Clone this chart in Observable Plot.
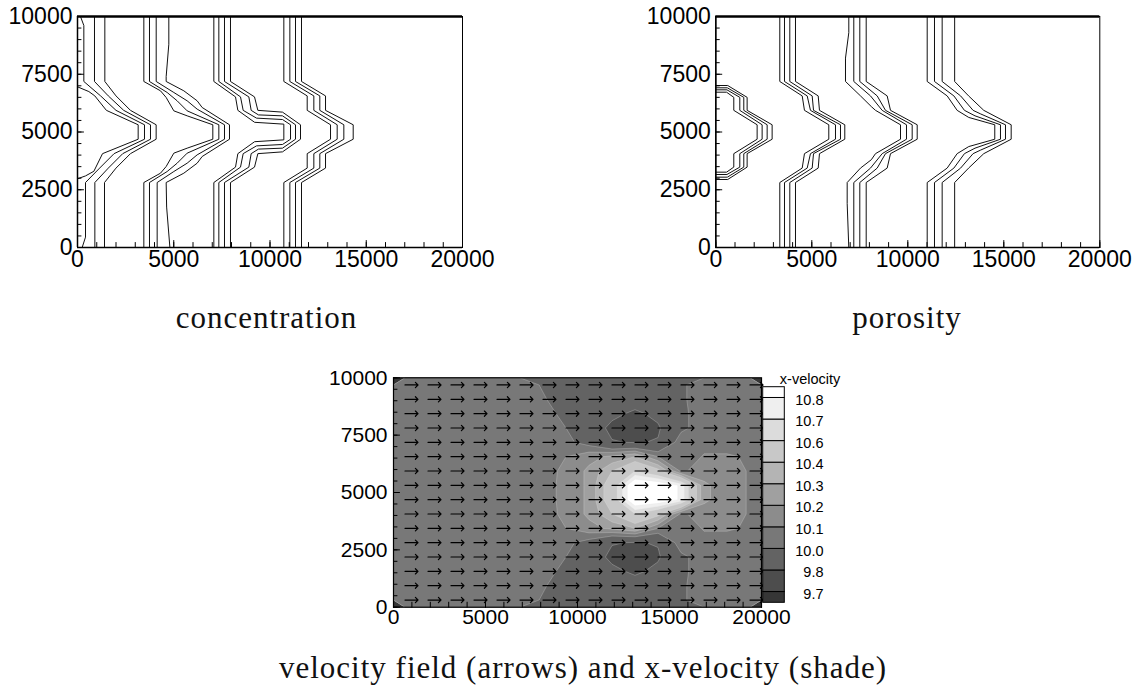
<!DOCTYPE html>
<html>
<head>
<meta charset="utf-8">
<script src="https://cdn.jsdelivr.net/npm/d3@7"></script>
<script src="https://cdn.jsdelivr.net/npm/@observablehq/plot@0.6"></script>
<style>
  html, body { margin: 0; padding: 0; background: #fff; }
  #page { position: relative; width: 1141px; height: 696px; overflow: hidden; }
  .panel { position: absolute; }
  .caption {
    position: absolute; width: 700px; text-align: center; white-space: nowrap;
    font-family: "Liberation Serif", "Times New Roman", serif;
    font-size: 31px; line-height: 31px; letter-spacing: 1px; color: #111;
  }
</style>
</head>
<body>
<div id="page"></div>
<script>
// Axis ticks shared by all three panels (domain is 20000 x 10000 m)
const xTicks = [0, 5000, 10000, 15000, 20000];
const yTicks = [0, 2500, 5000, 7500, 10000];

// Concentration iso-lines: four fronts, each with four levels; vertices are [x, y]
const concentrationFront1 = [
  [[0,6956],[590,6750],[900,6562.5],[1500,5937.5],[3151,5312.5],[3151,4687.5],[1300,4062.5],[850,3300],[420,3100],[0,2974]],
  [[156,10000],[329,9610],[329,7187.5],[1200,6562.5],[2000,5937.5],[3480,5312.5],[3480,4687.5],[1900,4062.5],[1150,3437.5],[416,2812.5],[416,450],[243,0]],
  [[883,10000],[883,7187.5],[1600,6562.5],[2400,5937.5],[3792,5312.5],[3792,4687.5],[2350,4062.5],[1600,3437.5],[901,2812.5],[901,0]],
  [[1420,10000],[1420,7187.5],[2000,6562.5],[2750,5937.5],[4086,5312.5],[4086,4687.5],[2750,4062.5],[2000,3437.5],[1403,2812.5],[1403,0]]
];
const concentrationFront2 = [
  [[3446,10000],[3446,7187.5],[4311,6783],[4606,6494],[5004,5916],[5697,5700],[7030,5312.5],[7030,4687.5],[5697,4300],[5004,4084],[4606,3506],[4311,3217],[3446,2812.5],[3446,0]],
  [[3740,10000],[3740,7187.5],[4657,6711],[5177,6350],[5697,5916],[7342,5312.5],[7342,4687.5],[5697,4084],[5177,3650],[4657,3289],[3740,2812.5],[3740,0]],
  [[4088,10000],[4088,7187.5],[5004,6711],[5697,6350],[6216,5989],[7636,5312.5],[7636,4687.5],[6216,4011],[5697,3650],[5004,3289],[4138,2812.5],[4138,0]],
  [[4744,10000],[4744,8800],[4606,7400],[4606,7187.5],[5524,6783],[6216,6350],[6476,6061],[7896,5312.5],[7896,4687.5],[6476,3939],[6216,3650],[5524,3217],[4606,2812.5],[4630,1750],[4800,0]]
];
const concentrationFront3 = [
  [[7082,10000],[7082,7187.5],[8208,6520],[8330,5937.5],[9200,5420],[10719,5340],[10719,4660],[9200,4580],[8330,4062.5],[8208,3480],[7082,2812.5],[7082,0]],
  [[7342,10000],[7342,7187.5],[8468,6520],[8607,5937.5],[9300,5600],[10650,5540],[11066,5312.5],[11066,4687.5],[10650,4460],[9300,4400],[8607,4062.5],[8468,3480],[7342,2812.5],[7342,0]],
  [[7636,10000],[7636,7187.5],[8901,6520],[9022,5937.5],[9400,5740],[10650,5700],[11325,5312.5],[11325,4687.5],[10650,4300],[9400,4260],[9022,4062.5],[8901,3480],[7636,2812.5],[7636,0]],
  [[7948,10000],[7948,7187.5],[9195,6520],[9369,5937.5],[10650,5860],[11585,5312.5],[11585,4687.5],[10650,4140],[9369,4062.5],[9195,3480],[7948,2812.5],[7948,0]]
];
const concentrationFront4 = [
  [[10719,10000],[10719,7187.5],[11932,6562.5],[11932,5937.5],[13144,5312.5],[13144,4687.5],[11932,4062.5],[11932,3437.5],[10719,2812.5],[10719,0]],
  [[11031,10000],[11031,7187.5],[12277,6562.5],[12277,5937.5],[13490,5312.5],[13490,4687.5],[12277,4062.5],[12277,3437.5],[11031,2812.5],[11031,0]],
  [[11325,10000],[11325,7187.5],[12588,6562.5],[12588,5937.5],[13836,5312.5],[13836,4687.5],[12588,4062.5],[12588,3437.5],[11325,2812.5],[11325,0]],
  [[11637,10000],[11637,7187.5],[12884,6562.5],[12884,5937.5],[14322,5312.5],[14322,4687.5],[12884,4062.5],[12884,3437.5],[11637,2812.5],[11637,0]]
];

// Porosity iso-lines, same layout
const porosityFront1 = [
  [[0,6723],[560,6723],[937,6500],[937,5937.5],[2153,5312.5],[2153,4687.5],[937,4062.5],[937,3480],[560,3261],[0,3261]],
  [[0,6826],[580,6826],[1250,6500],[1250,5937.5],[2413,5312.5],[2413,4687.5],[1250,4062.5],[1250,3480],[580,3160],[0,3160]],
  [[0,6913],[600,6913],[1458,6500],[1458,5937.5],[2674,5312.5],[2674,4687.5],[1458,4062.5],[1458,3480],[600,3045],[0,3045]],
  [[0,7013],[620,7013],[1632,6500],[1632,5937.5],[2934,5312.5],[2934,4687.5],[1632,4062.5],[1632,3480],[620,2944],[0,2944]]
];
const porosityFront2 = [
  [[3333,10000],[3333,7187.5],[4500,6562.5],[4618,5937.5],[5885,5312.5],[5885,4687.5],[4618,4062.5],[4500,3437.5],[3333,2812.5],[3333,0]],
  [[3578,10000],[3578,7187.5],[4760,6562.5],[4930,5937.5],[6234,5312.5],[6234,4687.5],[4930,4062.5],[4760,3437.5],[3578,2812.5],[3578,0]],
  [[3854,10000],[3854,7187.5],[5020,6562.5],[5090,5937.5],[6494,5312.5],[6494,4687.5],[5090,4062.5],[5020,3437.5],[3854,2812.5],[3854,0]],
  [[4151,10000],[4151,7187.5],[5333,6562.5],[5400,5937.5],[6718,5312.5],[6718,4687.5],[5400,4062.5],[5333,3437.5],[4151,2812.5],[4151,0]]
];
const porosityFront3 = [
  [[6927,10000],[6927,9300],[6755,8200],[6755,7187.5],[7536,6562.5],[8100,6100],[8317,5937.5],[9620,5312.5],[9620,4687.5],[8317,4062.5],[8100,3800],[7536,3437.5],[6843,2812.5],[6843,1900],[6927,0]],
  [[7187,10000],[7187,7187.5],[8057,6562.5],[8666,5937.5],[9932,5312.5],[9932,4687.5],[8666,4062.5],[8057,3437.5],[7187,2812.5],[7187,0]],
  [[7500,10000],[7500,7187.5],[8406,6562.5],[8838,5937.5],[10228,5312.5],[10228,4687.5],[8838,4062.5],[8406,3437.5],[7500,2812.5],[7500,0]],
  [[7833,10000],[7833,7187.5],[8925,6562.5],[9099,5937.5],[10489,5312.5],[10489,4687.5],[9099,4062.5],[8925,3437.5],[7833,2812.5],[7833,0]]
];
const porosityFront4 = [
  [[11010,10000],[11010,7187.5],[12050,6562.5],[12570,5937.5],[13176,5630],[14530,5312.5],[14530,4687.5],[13176,4370],[12570,4062.5],[12050,3437.5],[11010,2812.5],[11010,0]],
  [[11390,10000],[11390,7187.5],[12400,6562.5],[12950,5937.5],[13500,5700],[14827,5312.5],[14827,4687.5],[13500,4300],[12950,4062.5],[12400,3437.5],[11390,2812.5],[11390,0]],
  [[11790,10000],[11790,7187.5],[12750,6562.5],[13400,5937.5],[13800,5780],[15088,5312.5],[15088,4687.5],[13800,4220],[13400,4062.5],[12750,3437.5],[11790,2812.5],[11790,0]],
  [[12440,10000],[12440,7187.5],[13167,6562.5],[13957,5937.5],[15384,5312.5],[15384,4687.5],[13957,4062.5],[13167,3437.5],[12440,2812.5],[12440,0]]
];

// Cell-centred mesh (16 x 16) carrying the velocity field
const xNodes = [625,1875,3125,4375,5625,6875,8125,9375,10625,11875,13125,14375,15625,16875,18125,19375];
const yNodes = [312.5,937.5,1562.5,2187.5,2812.5,3437.5,4062.5,4687.5,5312.5,5937.5,6562.5,7187.5,7812.5,8437.5,9062.5,9687.5];

// x-velocity on the mesh, one row per yNodes entry (bottom row first)
const xVelocity = [
  10.05,10.05,10.05,10.05,10.05,10.05, 9.99, 9.95, 9.93, 9.92, 9.92, 9.93, 9.98,10.06,10.05,10.05,
  10.05,10.05,10.05,10.05,10.05,10.05,10.01, 9.95, 9.92, 9.90, 9.88, 9.90, 9.98,10.06,10.05,10.05,
  10.05,10.05,10.05,10.05,10.05,10.05,10.04, 9.97, 9.90, 9.84, 9.77, 9.84, 9.97,10.06,10.05,10.05,
  10.05,10.05,10.05,10.05,10.05,10.05,10.05,10.00, 9.90, 9.76, 9.70, 9.78, 9.97,10.06,10.05,10.05,
  10.05,10.05,10.05,10.05,10.05,10.05,10.06,10.03, 9.95, 9.81, 9.79, 9.81,10.07,10.06,10.06,10.05,
  10.05,10.05,10.05,10.05,10.05,10.05,10.06,10.10,10.17,10.22,10.30,10.10,10.02,10.11,10.11,10.09,
  10.05,10.05,10.05,10.05,10.05,10.05,10.05,10.13,10.22,10.40,10.60,10.45,10.08,10.15,10.15,10.09,
  10.05,10.05,10.05,10.05,10.05,10.05,10.06,10.13,10.22,10.50,10.95,10.92,10.78,10.22,10.15,10.09,
  10.05,10.05,10.05,10.05,10.05,10.05,10.06,10.13,10.22,10.50,10.95,10.92,10.78,10.22,10.15,10.09,
  10.05,10.05,10.05,10.05,10.05,10.05,10.05,10.13,10.22,10.40,10.60,10.45,10.08,10.15,10.15,10.09,
  10.05,10.05,10.05,10.05,10.05,10.05,10.06,10.10,10.17,10.22,10.30,10.10,10.02,10.11,10.11,10.09,
  10.05,10.05,10.05,10.05,10.05,10.05,10.06,10.03, 9.95, 9.81, 9.79, 9.81,10.07,10.06,10.06,10.05,
  10.05,10.05,10.05,10.05,10.05,10.05,10.05,10.00, 9.90, 9.76, 9.70, 9.78, 9.97,10.06,10.05,10.05,
  10.05,10.05,10.05,10.05,10.05,10.05,10.04, 9.97, 9.90, 9.84, 9.77, 9.84, 9.97,10.06,10.05,10.05,
  10.05,10.05,10.05,10.05,10.05,10.05,10.01, 9.95, 9.92, 9.90, 9.88, 9.90, 9.98,10.06,10.05,10.05,
  10.05,10.05,10.05,10.05,10.05,10.05, 9.99, 9.95, 9.93, 9.92, 9.92, 9.93, 9.98,10.06,10.05,10.05
];

// Shading levels of the x-velocity legend and their grey shades (lowest band first)
const levels = [9.7, 9.8, 10.0, 10.1, 10.2, 10.3, 10.4, 10.6, 10.7, 10.8];
const shades = ["#363636","#4d4d4d","#636363","#787878","#8c8c8c","#a0a0a0","#b4b4b4","#c8c8c8","#dcdcdc","#efefef","#ffffff"];

const captions = ["concentration", "porosity", "velocity field (arrows) and x-velocity (shade)"];

// ---------------------------------------------------------------------------
const sansFont = "'Liberation Sans', Arial, Helvetica, sans-serif";
const fmt = d => String(d);
const tickShape = {draw(context, l) { context.moveTo(0, 0); context.lineTo(0, -l); }};
const xMinor = d3.range(xTicks[0], xTicks[xTicks.length - 1] + 1, 1000);
const yMinor = d3.range(yTicks[0], yTicks[yTicks.length - 1] + 1, 500);
const xDomain = [xTicks[0], xTicks[xTicks.length - 1]];
const yDomain = [yTicks[0], yTicks[yTicks.length - 1]];
const svgStyle = size => `font-family: ${sansFont}; font-size: ${size}px; color: black; background: transparent; overflow: visible;`;

// inward-pointing tick marks along the left and bottom axes
function inwardTicks() {
  return [
    Plot.vector(yMinor, {y: d => d, frameAnchor: "left", length: 3.5, rotate: 90, anchor: "start", shape: tickShape, stroke: "black", strokeWidth: 1}),
    Plot.vector(yTicks, {y: d => d, frameAnchor: "left", length: 6, rotate: 90, anchor: "start", shape: tickShape, stroke: "black", strokeWidth: 1}),
    Plot.vector(xMinor, {x: d => d, frameAnchor: "bottom", length: 5, rotate: 0, anchor: "start", shape: tickShape, stroke: "black", strokeWidth: 1}),
    Plot.vector(xTicks, {x: d => d, frameAnchor: "bottom", length: 7, rotate: 0, anchor: "start", shape: tickShape, stroke: "black", strokeWidth: 1})
  ];
}

function axes(size, padX, padY) {
  return [
    Plot.axisX(xTicks, {anchor: "bottom", tickSize: 0, tickPadding: padX, tickFormat: fmt, label: null, fontSize: size}),
    Plot.axisY(yTicks, {anchor: "left", tickSize: 0, tickPadding: padY, tickFormat: fmt, label: null, fontSize: size})
  ];
}

function lineRows(fronts) {
  return fronts.flatMap((front, f) =>
    front.flatMap((pts, k) => pts.map(([x, y]) => ({x, y, id: f + "-" + k}))));
}

function isoPanel(fronts, marginLeft, marginRight) {
  return Plot.plot({
    width: 500, height: 280,
    marginLeft, marginRight, marginTop: 16, marginBottom: 33,
    x: {domain: xDomain}, y: {domain: yDomain},
    style: svgStyle(23),
    marks: [
      Plot.line(lineRows(fronts), {x: "x", y: "y", z: "id", stroke: "#111", strokeWidth: 1}),
      Plot.frame({stroke: "black", strokeWidth: 1}),
      Plot.ruleY([yDomain[1]], {stroke: "black", strokeWidth: 2.5}),
      Plot.ruleX([xDomain[0]], {stroke: "black", strokeWidth: 1.5}),
      Plot.ruleY([yDomain[0]], {stroke: "black", strokeWidth: 1.5}),
      ...inwardTicks(),
      ...axes(23, 3, 5)
    ]
  });
}

const velocityPanel = Plot.plot({
  width: 500, height: 285,
  marginLeft: 93, marginRight: 39, marginTop: 27.3, marginBottom: 28.3,
  x: {domain: xDomain}, y: {domain: yDomain},
  color: {type: "threshold", domain: levels, range: shades},
  style: svgStyle(21),
  marks: [
    Plot.frame({fill: shades[0]}),
    Plot.contour(xVelocity, {
      width: xNodes.length, height: yNodes.length,
      x1: xDomain[0], x2: xDomain[1], y1: yDomain[0], y2: yDomain[1],
      fill: Plot.identity, thresholds: levels,
      stroke: "#e6e6e6", strokeOpacity: 0.45, strokeWidth: 0.6
    }),
    Plot.vector(d3.cross(xNodes, yNodes), {x: d => d[0], y: d => d[1], length: 13, rotate: 90, anchor: "start", stroke: "black", strokeWidth: 1.2}),
    Plot.frame({stroke: "black", strokeWidth: 1.2}),
    ...inwardTicks(),
    ...axes(21, 2, 6)
  ]
});

// Legend: one box per shade, level labels sit on the band boundaries
const legendBands = shades.map((color, i) => ({
  color,
  lo: i === 0 ? -0.5 : i - 1,
  hi: i === shades.length - 1 ? levels.length - 0.5 : i
}));
const legend = Plot.plot({
  width: 95, height: 245,
  marginLeft: 7.7, marginRight: 65.7, marginTop: 21.7, marginBottom: 7.7,
  x: {domain: [0, 1], axis: null},
  y: {domain: [-0.5, levels.length - 0.5], axis: null},
  style: svgStyle(14.5),
  marks: [
    Plot.rect(legendBands, {x1: 0, x2: 1, y1: "lo", y2: "hi", fill: "color", stroke: "black", strokeWidth: 1}),
    Plot.text(levels, {x: 1, y: (d, i) => i, text: d => d3.format(".1f")(d), textAnchor: "end", dx: 38.7, dy: 2, fontSize: 14.5}),
    Plot.text(["x-velocity"], {x: 1, y: levels.length - 0.5, textAnchor: "start", dx: -5, dy: -7.7, fontSize: 14.5})
  ]
});

const page = document.getElementById("page");
function place(node, left, top) {
  const wrap = document.createElement("div");
  wrap.className = "panel";
  wrap.style.left = left + "px";
  wrap.style.top = top + "px";
  wrap.appendChild(node);
  page.appendChild(wrap);
}
place(isoPanel([concentrationFront1, concentrationFront2, concentrationFront3, concentrationFront4], 77, 38), 0, 0);
place(isoPanel([porosityFront1, porosityFront2, porosityFront3, porosityFront4], 75.3, 40.7), 640, 0);
place(velocityPanel, 300, 350);
place(legend, 755, 365);

// captions: centre x and baseline y
[[captions[0], 266.5, 328], [captions[1], 907, 328], [captions[2], 583, 678]].forEach(([text, cx, base]) => {
  const div = document.createElement("div");
  div.className = "caption";
  div.textContent = text;
  div.style.left = (cx - 350) + "px";
  div.style.top = (base - 26) + "px";
  page.appendChild(div);
});
</script>
</body>
</html>
